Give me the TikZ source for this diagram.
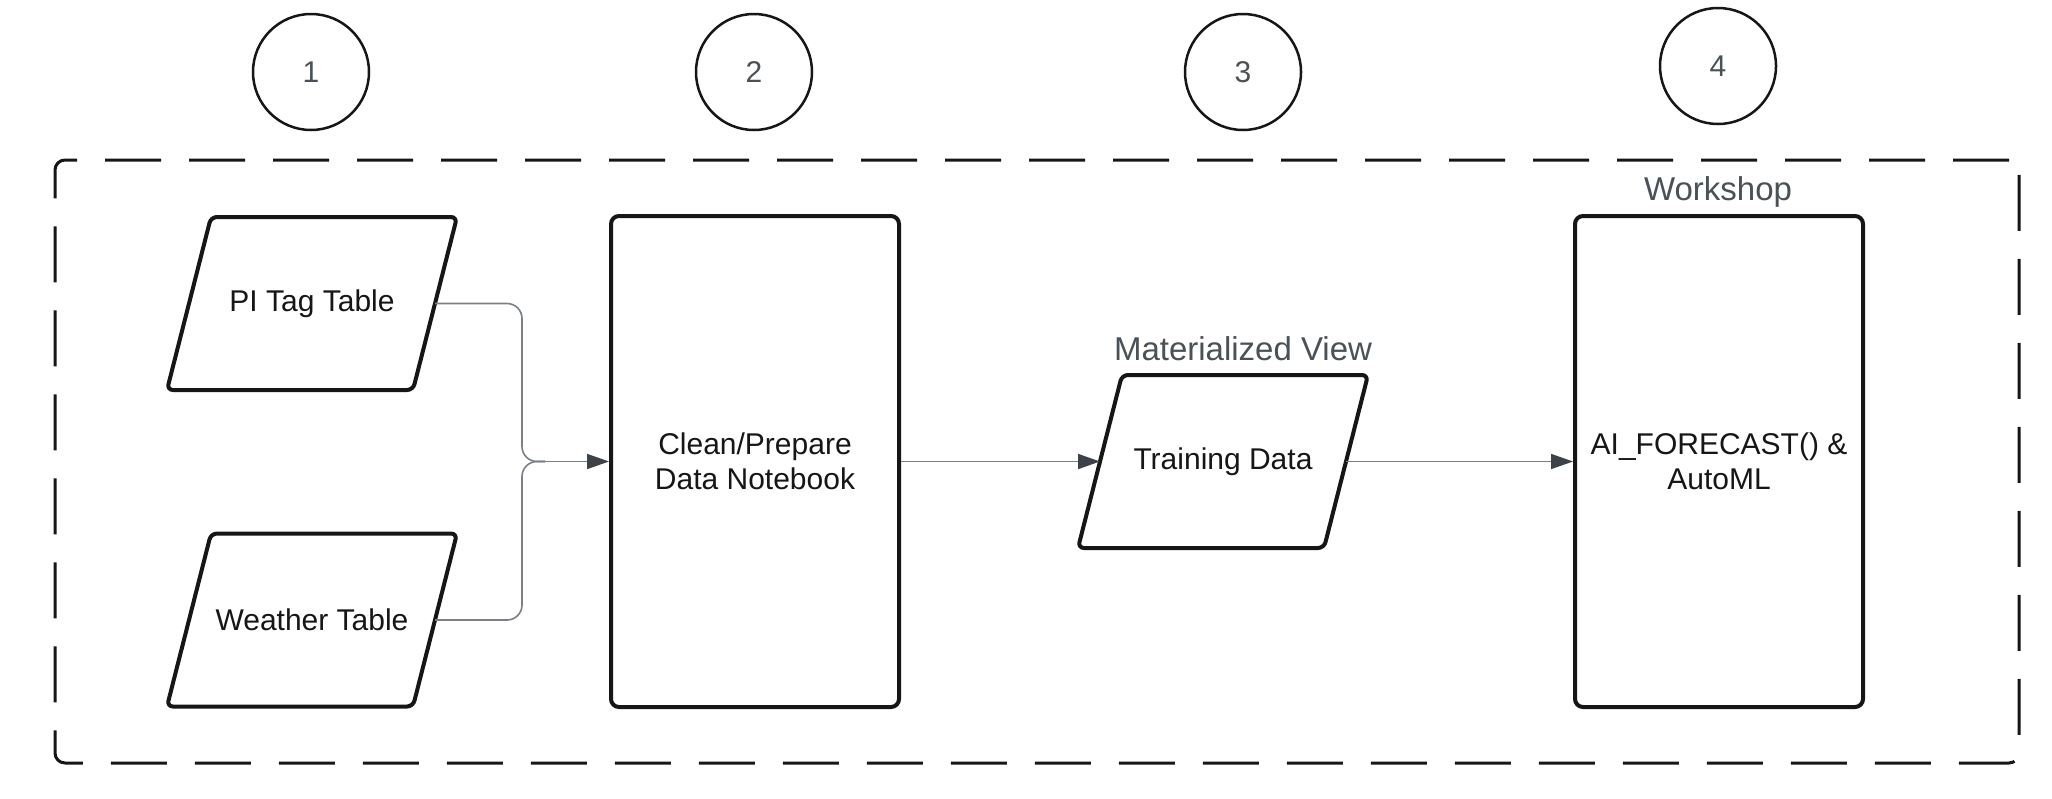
\documentclass[tikz,border=0pt]{standalone}
\usepackage{fontspec}
\setmainfont{Liberation Sans}
\usetikzlibrary{arrows.meta,calc}
\definecolor{ink}{HTML}{161616}
\definecolor{labelgray}{HTML}{4A5157}
\definecolor{linegray}{HTML}{7A8086}
\definecolor{headgray}{HTML}{3C4248}
\begin{document}
\begin{tikzpicture}[x=1pt,y=-1pt,
  boxfont/.style={font=\fontsize{30}{35}\selectfont},
  databox/.style={rectangle, minimum width=242, minimum height=173, inner sep=0,
    outer sep=2, boxfont, text=ink},
  dataedge/.style={draw=ink, line width=4, rounded corners=6},
  procbox/.style={rectangle, draw=ink, line width=4, rounded corners=8,
    minimum width=288, minimum height=491, inner sep=0, boxfont, align=center, text=ink},
  numcircle/.style={circle, draw=ink, line width=2.5, minimum size=116, inner sep=0,
    font=\fontsize{30}{36}\selectfont, text=labelgray},
  tag/.style={font=\fontsize{33}{38}\selectfont, text=labelgray, anchor=base},
  frame/.style={draw=ink, line width=3, dash pattern=on 56pt off 28pt, rounded corners=10,
    minimum width=1964, minimum height=603, inner sep=0},
  mergeline/.style={draw=linegray, line width=1.6, rounded corners=15},
  flow/.style={draw=linegray, line width=1.6, -{Triangle[length=22,width=15,fill=headgray,color=headgray]}}
]
\useasboundingbox (0,0) rectangle (2052,798);
\fill[white] (0,0) rectangle (2052,798);

\node[frame] (container) at (1037,461.5) {};

\node[numcircle] (c1) at (311,72) {1};
\node[numcircle] (c2) at (754,72) {2};
\node[numcircle] (c3) at (1243,72) {3};
\node[numcircle] (c4) at (1718,66) {4};

\node[databox] (pi) at (312,303.5) {PI Tag Table};
\node[databox] (weather) at (312,620) {Weather Table};
\node[procbox] (clean) at (755,461.5) {Clean/Prepare\\Data Notebook};
\node[databox] (training) at (1223,461.5) {Training Data};
\node[procbox] (ai) at (1719,461.5) {AI\_FORECAST() \&\\AutoML};

\foreach \n in {pi,weather,training}
  \draw[dataedge] ($(\n.north west)+(22,2)$) -- ($(\n.north east)+(22,2)$)
    -- ($(\n.south east)+(-22,-2)$) -- ($(\n.south west)+(-22,-2)$) -- cycle;

\node[tag] (mvlabel) at (1243,360) {Materialized View};
\node[tag] (wslabel) at (1718,200) {Workshop};

\coordinate (mx) at (522,461.5);
\coordinate (mjoin) at (545,461.5);
\draw[mergeline] (pi.east) -| (mx) -- (mjoin);
\draw[mergeline] (weather.east) -| (mx) -- (mjoin);
\draw[flow] (mjoin) -- (clean.west);
\draw[flow] (clean.east) -- (training.west);
\draw[flow] (training.east) -- (ai.west);
\end{tikzpicture}
\end{document}
